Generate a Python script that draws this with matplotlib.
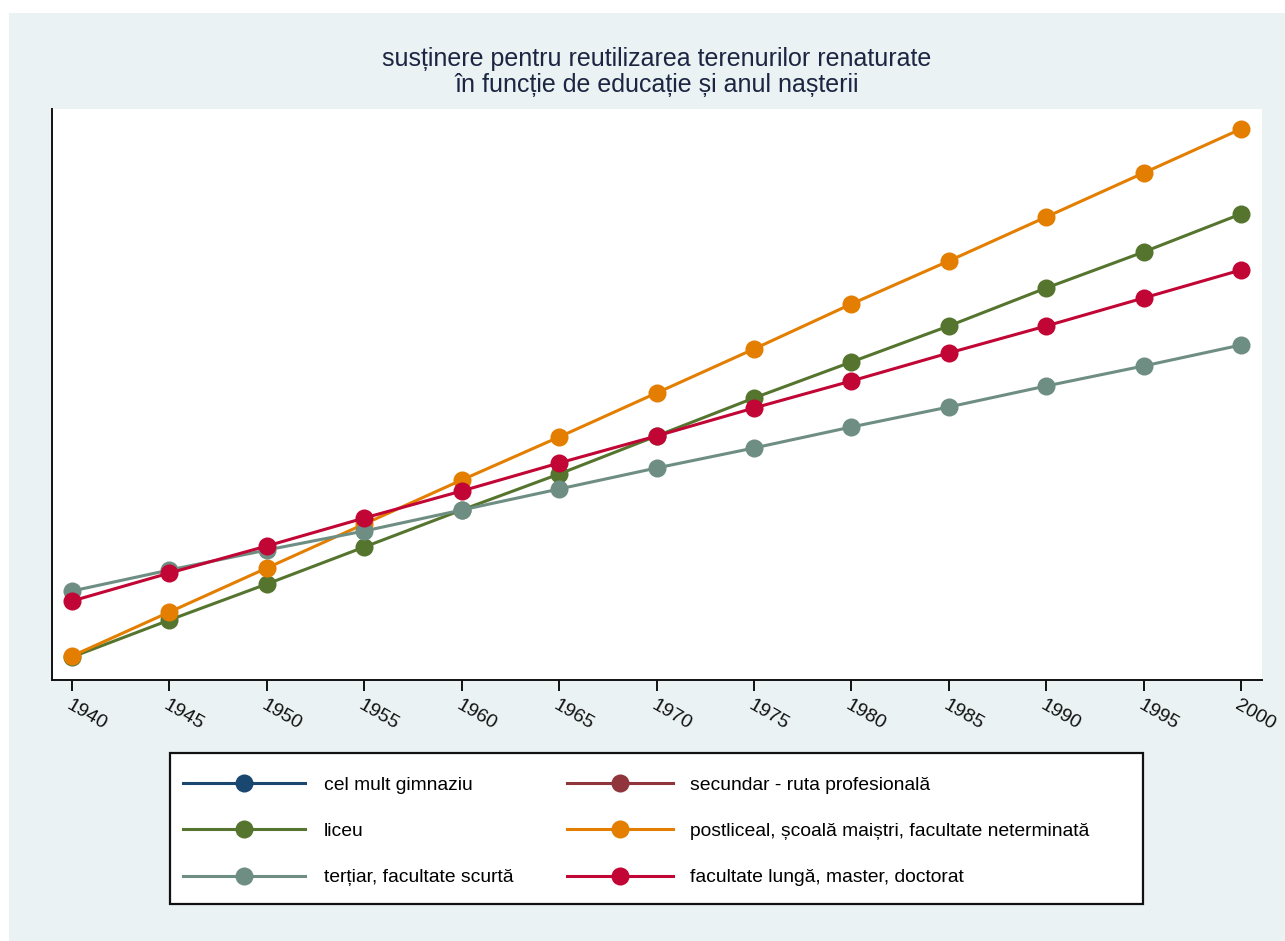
import matplotlib
matplotlib.use("Agg")
import matplotlib.pyplot as plt
from matplotlib.lines import Line2D
from matplotlib.patches import Rectangle
from matplotlib.transforms import ScaledTranslation

years = [1940, 1945, 1950, 1955, 1960, 1965, 1970, 1975, 1980, 1985, 1990, 1995, 2000]
year_ticks = years

# Series values (arbitrary scale; the y-axis is not labelled in the reference)
cel_mult_gimnaziu = []          # listed in legend only
secundar_profesional = []       # listed in legend only
liceu = [0.23, 0.60, 0.96, 1.33, 1.70, 2.06, 2.44, 2.82, 3.18, 3.54, 3.92, 4.28, 4.66]
postliceal = [0.24, 0.68, 1.12, 1.56, 2.00, 2.43, 2.87, 3.31, 3.76, 4.19, 4.63, 5.07, 5.51]
tertiar = [0.89, 1.10, 1.30, 1.49, 1.70, 1.91, 2.12, 2.32, 2.53, 2.73, 2.94, 3.14, 3.35]
fac_lunga = [0.79, 1.07, 1.34, 1.62, 1.89, 2.17, 2.44, 2.72, 2.99, 3.27, 3.54, 3.82, 4.10]

labels = [
    "cel mult gimnaziu",
    "secundar - ruta profesională",
    "liceu",
    "postliceal, școală maiștri, facultate neterminată",
    "terțiar, facultate scurtă",
    "facultate lungă, master, doctorat",
]
colors = ["#1A476F", "#90353B", "#55752F", "#E37E00", "#6E8E84", "#C10534"]
series = [cel_mult_gimnaziu, secundar_profesional, liceu, postliceal, tertiar, fac_lunga]

title_lines = ["susținere pentru reutilizarea terenurilor renaturate",
               "în funcție de educație și anul nașterii"]

plt.rcParams['font.family'] = ['Liberation Sans', 'DejaVu Sans']

W, H = 1285, 941
fig = plt.figure(figsize=(W / 100, H / 100), dpi=100)
fig.patch.set_facecolor("white")
fig.patches.append(Rectangle((9 / W, 0), 1 - 9 / W, 1 - 13 / H, transform=fig.transFigure,
                             facecolor="#EAF2F3", edgecolor="none", zorder=-10))

ax = fig.add_axes([52 / W, 1 - 680 / H, (1262 - 52) / W, (680 - 109) / H])
ax.set_facecolor("white")

handles = []
for vals, lab, col in zip(series, labels, colors):
    if len(vals):
        ax.plot(years[:len(vals)], vals, color=col, lw=2.2, marker="o", ms=13,
                markeredgewidth=0, solid_capstyle="round")
    handles.append(Line2D([], [], color=col, lw=2.2, marker="o", ms=13, markeredgewidth=0))

ax.set_xlim(1938.97, 2001.08)
ax.set_ylim(0, 5.71)
ax.set_xticks(year_ticks)
ax.set_xticklabels([str(y) for y in year_ticks], rotation=-30, ha="left", va="top",
                   rotation_mode="anchor", fontsize=14, color="#111111")
for lbl in ax.get_xticklabels():
    lbl.set_transform(lbl.get_transform() + ScaledTranslation(3 / 72, 0, fig.dpi_scale_trans))
ax.tick_params(axis="x", length=8, width=1.4, pad=4, color="#111111")
ax.set_yticks([])
for s in ["top", "right"]:
    ax.spines[s].set_visible(False)
for s in ["left", "bottom"]:
    ax.spines[s].set_linewidth(1.4)
    ax.spines[s].set_color("#111111")

for line, base in zip(title_lines, [66, 92]):
    fig.text(657 / W, 1 - base / H, line, ha="center", va="baseline", fontsize=18,
             color="#1C2541")

# legend frame
fig.patches.append(Rectangle((170 / W, 1 - 904 / H), (1143 - 170) / W, (904 - 753) / H,
                             transform=fig.transFigure, facecolor="white",
                             edgecolor="#111111", linewidth=1.6, zorder=1))

columns = [([0, 2, 4], 183, 6.3, 1.0), ([1, 3, 5], 567, 5.5, 0.88)]
for idx, x0, hl, tp in columns:
    leg = fig.legend([handles[i] for i in idx], [labels[i] for i in idx],
                     ncol=1, loc="center left",
                     bbox_to_anchor=(x0 / W, 1 - 831.5 / H),
                     numpoints=1, frameon=False,
                     fontsize=13.9, handlelength=hl, handletextpad=tp,
                     labelspacing=1.48, borderpad=0, borderaxespad=0)
    leg.set_zorder(2)

fig.savefig("out.png", dpi=100, facecolor=fig.get_facecolor())
